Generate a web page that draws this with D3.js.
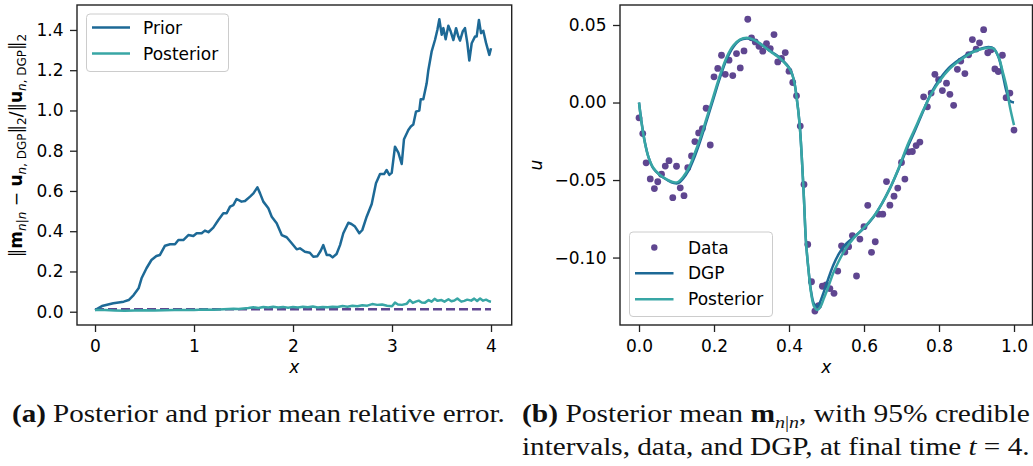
<!DOCTYPE html>
<html><head><meta charset="utf-8">
<script src="https://cdn.jsdelivr.net/npm/d3@7"></script>
<style>html,body{margin:0;padding:0;background:#fff;} svg{display:block}</style>
</head><body>
<svg id="c" width="1033" height="466"></svg>
<script>
// ---------- DATA ----------
// Left panel: relative error vs time
const priorX = [0,0.07,0.185,0.29,0.34,0.39,0.44,0.47,0.52,0.57,0.62,0.656,0.707,0.758,0.808,0.842,0.892,0.943,0.993,1.027,1.077,1.11,1.145,1.195,1.246,1.296,1.33,1.364,1.397,1.43,1.48,1.515,1.566,1.6,1.64,1.667,1.7,1.751,1.785,1.835,1.886,1.936,1.987,2.037,2.07,2.12,2.17,2.205,2.246,2.28,2.306,2.34,2.37,2.40,2.44,2.475,2.508,2.559,2.59,2.626,2.67,2.70,2.744,2.795,2.838,2.879,2.92,2.946,2.973,2.997,3.03,3.064,3.098,3.121,3.165,3.19,3.215,3.242,3.276,3.29,3.316,3.35,3.367,3.40,3.434,3.458,3.478,3.502,3.519,3.542,3.569,3.593,3.62,3.647,3.67,3.687,3.714,3.737,3.761,3.781,3.805,3.838,3.855,3.878,3.899,3.922,3.949,3.983,4.0];
const priorY = [0.008,0.028,0.042,0.05,0.058,0.083,0.116,0.166,0.216,0.257,0.277,0.282,0.328,0.335,0.335,0.356,0.356,0.381,0.376,0.39,0.39,0.403,0.395,0.418,0.456,0.489,0.489,0.522,0.53,0.56,0.547,0.55,0.572,0.588,0.618,0.588,0.547,0.514,0.472,0.439,0.381,0.37,0.34,0.31,0.315,0.298,0.293,0.273,0.276,0.303,0.331,0.282,0.282,0.27,0.287,0.331,0.39,0.442,0.436,0.423,0.39,0.406,0.472,0.535,0.638,0.684,0.684,0.704,0.68,0.69,0.82,0.79,0.734,0.857,0.903,0.92,0.93,0.994,1.0,1.056,1.056,1.135,1.2,1.292,1.35,1.40,1.453,1.376,1.409,1.354,1.421,1.392,1.35,1.409,1.367,1.347,1.392,1.409,1.334,1.248,1.334,1.367,1.367,1.45,1.384,1.396,1.337,1.276,1.309];
const postX = [0,0.1,0.2,0.3,0.4,0.5,0.6,0.7,0.8,0.9,1.0,1.1,1.2,1.3,1.4,1.45,1.5,1.55,1.6,1.65,1.7,1.75,1.8,1.85,1.9,1.95,2.0,2.05,2.1,2.15,2.2,2.25,2.3,2.35,2.4,2.45,2.5,2.55,2.6,2.65,2.7,2.75,2.8,2.85,2.9,2.95,3.0,3.03,3.06,3.1,3.15,3.18,3.21,3.24,3.27,3.3,3.33,3.37,3.4,3.43,3.46,3.5,3.53,3.57,3.6,3.63,3.66,3.7,3.73,3.76,3.8,3.83,3.86,3.89,3.92,3.95,3.98,4.0];
const postY = [0.008,0.008,0.006,0.005,0.006,0.007,0.006,0.007,0.008,0.009,0.009,0.011,0.010,0.012,0.015,0.013,0.016,0.018,0.022,0.018,0.023,0.021,0.025,0.021,0.024,0.020,0.024,0.021,0.025,0.022,0.026,0.021,0.024,0.022,0.025,0.023,0.028,0.025,0.030,0.027,0.032,0.030,0.038,0.034,0.036,0.030,0.027,0.045,0.036,0.034,0.040,0.058,0.044,0.050,0.055,0.046,0.044,0.058,0.050,0.064,0.054,0.058,0.050,0.062,0.052,0.056,0.066,0.050,0.054,0.060,0.055,0.065,0.053,0.066,0.055,0.060,0.052,0.050];
const refX = [0, 4];
const refY = [0.012, 0.012];

// Right panel: final-time field
const dataX = [0,0.01,0.019,0.03,0.041,0.05,0.06,0.07,0.08,0.09,0.1,0.11,0.12,0.13,0.14,0.149,0.159,0.169,0.179,0.19,0.2,0.21,0.22,0.23,0.24,0.25,0.26,0.27,0.28,0.29,0.3,0.31,0.32,0.33,0.34,0.35,0.36,0.37,0.38,0.39,0.4,0.41,0.42,0.43,0.44,0.45,0.46,0.469,0.479,0.489,0.499,0.509,0.52,0.53,0.54,0.549,0.559,0.569,0.58,0.589,0.6,0.61,0.62,0.63,0.639,0.65,0.66,0.669,0.68,0.69,0.7,0.709,0.719,0.729,0.739,0.749,0.759,0.769,0.779,0.789,0.799,0.809,0.82,0.829,0.839,0.849,0.858,0.869,0.879,0.889,0.899,0.908,0.919,0.93,0.939,0.949,0.958,0.969,0.979,0.989,1.0];
const dataY = [-0.0099,-0.020,-0.0389,-0.0493,-0.0555,-0.0511,-0.0462,-0.041,-0.0375,-0.0614,-0.0411,-0.055,-0.0601,-0.042,-0.0345,-0.0252,-0.0196,-0.0168,-0.0037,-0.0274,0.0166,0.022,0.0305,0.0182,0.0273,0.0174,0.0316,0.0223,0.0333,0.0537,0.0417,0.0391,0.0363,0.0331,0.038,0.0348,0.0438,0.0262,0.0284,0.0322,0.0202,0.0129,0.0043,-0.0152,-0.0528,-0.0915,-0.1156,-0.1345,-0.131,-0.1185,-0.1177,-0.12,-0.1231,-0.1087,-0.0924,-0.0964,-0.093,-0.0858,-0.1119,-0.0881,-0.0801,-0.0663,-0.0966,-0.0898,-0.072,-0.072,-0.051,-0.0662,-0.0604,-0.0552,-0.0387,-0.0494,-0.0318,-0.0316,-0.0278,-0.0255,0.0037,-0.0028,0.0061,0.0182,0.0147,0.0077,0.0125,0.0053,-0.0018,0.0214,0.0267,0.0187,0.0308,0.0406,0.0345,0.0385,0.047,0.0321,0.034,0.0217,0.02,0.0305,0.0031,0.0061,-0.0178];
const curveX = [0,0.007,0.016,0.025,0.038,0.056,0.074,0.093,0.105,0.118,0.132,0.145,0.163,0.18,0.198,0.216,0.234,0.252,0.269,0.287,0.305,0.323,0.34,0.358,0.376,0.394,0.404,0.413,0.42,0.428,0.434,0.44,0.445,0.452,0.459,0.467,0.476,0.484,0.493,0.505,0.518,0.532,0.549,0.572,0.598,0.625,0.647,0.669,0.692,0.714,0.736,0.758,0.78,0.803,0.829,0.856,0.883,0.909,0.932,0.945,0.959,0.97,0.98,0.989,1.0];
const dgpY = [0.0,-0.013,-0.026,-0.035,-0.0425,-0.047,-0.0498,-0.052,-0.052,-0.049,-0.044,-0.037,-0.025,-0.012,0.002,0.016,0.028,0.036,0.0402,0.0413,0.0405,0.038,0.035,0.032,0.0288,0.0245,0.021,0.0145,0.004,-0.013,-0.035,-0.063,-0.089,-0.108,-0.122,-0.130,-0.1315,-0.128,-0.122,-0.1135,-0.105,-0.098,-0.092,-0.087,-0.0815,-0.074,-0.0655,-0.0554,-0.043,-0.030,-0.018,-0.0055,0.0065,0.0155,0.023,0.028,0.032,0.0345,0.0358,0.035,0.029,0.018,0.007,0.001,0.0];
const fitY = [0.0,-0.0135,-0.0264,-0.035,-0.0421,-0.0468,-0.0496,-0.0515,-0.0511,-0.0479,-0.0425,-0.035,-0.0232,-0.0103,0.0037,0.0176,0.0294,0.0369,0.0406,0.0417,0.0406,0.038,0.0348,0.0316,0.0284,0.024,0.0208,0.0144,0.0037,-0.0135,-0.035,-0.0629,-0.0887,-0.108,-0.123,-0.1317,-0.1338,-0.1317,-0.1263,-0.1188,-0.110,-0.1027,-0.0951,-0.0876,-0.0812,-0.0737,-0.0655,-0.0554,-0.0425,-0.0286,-0.0168,-0.0049,0.0058,0.0144,0.0219,0.0273,0.0316,0.0342,0.0354,0.0348,0.0294,0.0198,0.0101,-0.0028,-0.0146];

// Ticks
const leftXTicks = [0,1,2,3,4];
const leftXLabels = ["0","1","2","3","4"];
const leftYTicks = [0,0.2,0.4,0.6,0.8,1.0,1.2,1.4];
const leftYLabels = ["0.0","0.2","0.4","0.6","0.8","1.0","1.2","1.4"];
const rightXTicks = [0,0.2,0.4,0.6,0.8,1.0];
const rightXLabels = ["0.0","0.2","0.4","0.6","0.8","1.0"];
const rightYTicks = [-0.10,-0.05,0,0.05];
const rightYLabels = ["\u22120.10","\u22120.05","0.00","0.05"];

// ---------- STYLE ----------
const C_BLUE = "#1D6996", C_TEAL = "#38A6A5", C_PURPLE = "#5F4690";
const FONT = "'DejaVu Sans', sans-serif";
const FS = 17;
const svg = d3.select("#c");

// ---------- SCALES ----------
const xL = d3.scaleLinear().domain([-0.182, 4.209]).range([77, 511.7]);
const yL = d3.scaleLinear().domain([-0.066, 1.524]).range([325, 5]);
const xR = d3.scaleLinear().domain([-0.0507, 1.0493]).range([620, 1032.5]);
const yR = d3.scaleLinear().domain([-0.1435, 0.0629]).range([325, 5]);

function styleAxis(g){
  g.select(".domain").remove();
  g.selectAll(".tick line").attr("stroke","#222").attr("stroke-width",1.3);
  g.selectAll(".tick text").attr("font-family",FONT).attr("font-size",FS).attr("fill","#000");
}
function drawAxes(xs, ys, xt, xl, yt, yl){
  const [x0,x1] = xs.range(), [y0,y1] = ys.range();
  svg.append("g").attr("transform",`translate(0,${y0})`)
    .call(d3.axisBottom(xs).tickValues(xt).tickFormat((d,i)=>xl[i]).tickSize(7).tickPadding(8))
    .call(styleAxis);
  svg.append("g").attr("transform",`translate(${x0},0)`)
    .call(d3.axisLeft(ys).tickValues(yt).tickFormat((d,i)=>yl[i]).tickSize(7).tickPadding(6.5))
    .call(styleAxis);
}
function frame(xs, ys){
  const [x0,x1] = xs.range(), [y0,y1] = ys.range();
  svg.append("rect").attr("x",x0).attr("y",y1).attr("width",x1-x0).attr("height",y0-y1)
    .attr("fill","none").attr("stroke","#222").attr("stroke-width",1.4);
}

// ---------- LEFT PANEL ----------
drawAxes(xL, yL, leftXTicks, leftXLabels, leftYTicks, leftYLabels);
const lineL = d3.line().x(d=>xL(d[0])).y(d=>yL(d[1]));
svg.append("path").datum(d3.zip(refX, refY)).attr("d", lineL)
  .attr("fill","none").attr("stroke",C_PURPLE).attr("stroke-width",2.4).attr("stroke-dasharray","9,4");
svg.append("path").datum(d3.zip(priorX, priorY)).attr("d", lineL)
  .attr("fill","none").attr("stroke",C_BLUE).attr("stroke-width",2.5).attr("stroke-linejoin","round");
svg.append("path").datum(d3.zip(postX, postY)).attr("d", lineL)
  .attr("fill","none").attr("stroke",C_TEAL).attr("stroke-width",2.5).attr("stroke-linejoin","round");
frame(xL, yL);

// legend left
const lgL = svg.append("g");
lgL.append("rect").attr("x",86.5).attr("y",14).attr("width",142).attr("height",57.5).attr("rx",3.5)
  .attr("fill","#fff").attr("fill-opacity",0.8).attr("stroke","#ccc").attr("stroke-width",1);
[["Prior",C_BLUE,27.5],["Posterior",C_TEAL,53.5]].forEach(([t,c,y])=>{
  lgL.append("line").attr("x1",92).attr("x2",130).attr("y1",y).attr("y2",y).attr("stroke",c).attr("stroke-width",2.5);
  lgL.append("text").attr("x",143).attr("y",y).attr("dy","0.36em").attr("font-family",FONT).attr("font-size",FS).text(t);
});

// x label
svg.append("text").attr("x",(xL.range()[0]+xL.range()[1])/2).attr("y",372.5).attr("text-anchor","middle")
  .attr("font-family",FONT).attr("font-size",FS).attr("font-style","italic").text("x");

// y label left (mathtext)
const yl = svg.append("text").attr("transform","translate(22,145.5) rotate(-90)").attr("text-anchor","middle")
  .attr("font-family",FONT).attr("font-size",FS);
function ts(txt, o={}){
  const t = yl.append("tspan").text(txt);
  if(o.b) t.attr("font-weight","bold");
  if(o.i) t.attr("font-style","italic");
  if(o.s) t.attr("font-size",o.s);
  if(o.dy) t.attr("dy",o.dy);
  return t;
}
const SUB = 12, SD = 4;
ts("\u2016"); ts("m",{b:1});
ts("n",{i:1,s:SUB,dy:SD}); ts("|",{s:SUB}); ts("n",{i:1,s:SUB});
ts(" \u2212 ",{dy:-SD}); ts("u",{b:1});
ts("n",{i:1,s:SUB,dy:SD}); ts(", DGP",{s:SUB});
ts("\u2016",{dy:-SD}); ts("2",{s:SUB,dy:SD});
ts("/\u2016",{dy:-SD}); ts("u",{b:1});
ts("n",{i:1,s:SUB,dy:SD}); ts(", DGP",{s:SUB});
ts("\u2016",{dy:-SD}); ts("2",{s:SUB,dy:SD});

// ---------- RIGHT PANEL ----------
drawAxes(xR, yR, rightXTicks, rightXLabels, rightYTicks, rightYLabels);
const lineR = d3.line().x(d=>xR(d[0])).y(d=>yR(d[1])).curve(d3.curveCatmullRom);
svg.append("g").selectAll("circle").data(d3.zip(dataX, dataY)).join("circle")
  .attr("cx",d=>xR(d[0])).attr("cy",d=>yR(d[1])).attr("r",3.4).attr("fill",C_PURPLE);
svg.append("path").datum(d3.zip(curveX, dgpY)).attr("d", lineR)
  .attr("fill","none").attr("stroke",C_BLUE).attr("stroke-width",2.5);
svg.append("path").datum(d3.zip(curveX, fitY)).attr("d", lineR)
  .attr("fill","none").attr("stroke",C_TEAL).attr("stroke-width",2.5);
frame(xR, yR);

const lgR = svg.append("g");
lgR.append("rect").attr("x",629.5).attr("y",232).attr("width",143).attr("height",84.5).attr("rx",3.5)
  .attr("fill","#fff").attr("fill-opacity",0.8).attr("stroke","#ccc").attr("stroke-width",1);
lgR.append("circle").attr("cx",654.3).attr("cy",247.5).attr("r",3.2).attr("fill",C_PURPLE);
lgR.append("text").attr("x",688).attr("y",247.5).attr("dy","0.36em").attr("font-family",FONT).attr("font-size",FS).text("Data");
[["DGP",C_BLUE,273.3],["Posterior",C_TEAL,299.2]].forEach(([t,c,y])=>{
  lgR.append("line").attr("x1",635).attr("x2",673.5).attr("y1",y).attr("y2",y).attr("stroke",c).attr("stroke-width",2.5);
  lgR.append("text").attr("x",688).attr("y",y).attr("dy","0.36em").attr("font-family",FONT).attr("font-size",FS).text(t);
});
svg.append("text").attr("x",(xR.range()[0]+xR.range()[1])/2).attr("y",372.5).attr("text-anchor","middle")
  .attr("font-family",FONT).attr("font-size",FS).attr("font-style","italic").text("x");
svg.append("text").attr("transform","translate(542,165) rotate(-90)").attr("text-anchor","middle")
  .attr("font-family",FONT).attr("font-size",FS).attr("font-style","italic").text("u");

// ---------- CAPTIONS ----------
const SERIF = "'Liberation Serif', 'Times New Roman', serif";
function caption(x, y, parts, targetW){
  const t = svg.append("text").attr("x",x).attr("y",y).attr("font-family",SERIF).attr("font-size",25).attr("fill","#111");
  parts.forEach(p=>{
    const s = t.append("tspan").text(p.t);
    if(p.b) s.attr("font-weight","bold");
    if(p.i) s.attr("font-style","italic");
    if(p.s) s.attr("font-size",p.s);
    if(p.dy) s.attr("dy",p.dy);
  });
  const w = t.node().getBBox().width;
  const k = targetW / w;
  t.attr("transform",`translate(${x},0) scale(${k},1) translate(${-x},0)`);
}
caption(12, 422, [{t:"(a)",b:1},{t:" Posterior and prior mean relative error."}], 493);
caption(522, 455, [{t:"intervals, data, and DGP, at final time "},{t:"t",i:1},{t:" = 4."}], 508);
caption(522, 422, [{t:"(b)",b:1},{t:" Posterior mean "},{t:"m",b:1},{t:"n",i:1,s:17,dy:6},{t:"|",s:17},{t:"n",i:1,s:17},{t:", with 95% credible",dy:-6}], 508);
</script>
</body></html>
